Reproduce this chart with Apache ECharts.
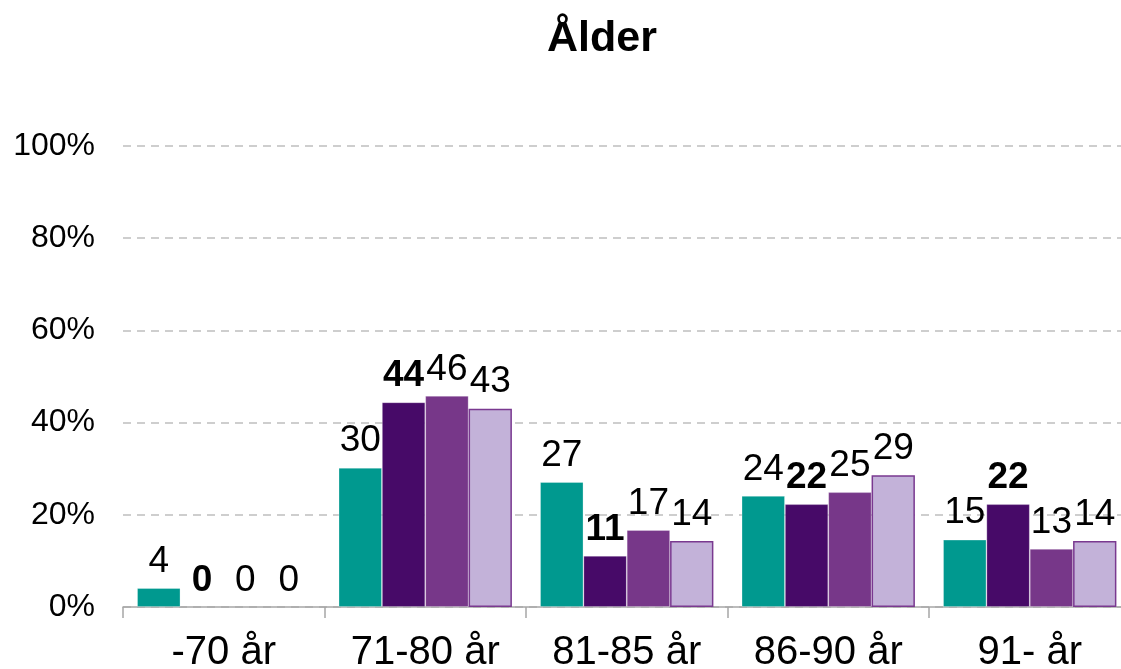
<!DOCTYPE html>
<html>
<head>
<meta charset="utf-8">
<title>Ålder</title>
<script src="https://cdn.jsdelivr.net/npm/echarts@6/dist/echarts.min.js"></script>
<style>
  html, body { margin: 0; padding: 0; background: #fff; }
  #chart { width: 1121px; height: 669px; }
</style>
</head>
<body>
<div id="chart"></div>
<script>
const categories = ['-70 år', '71-80 år', '81-85 år', '86-90 år', '91- år']
const yTicks = [0, 20, 40, 60, 80, 100]

// bar heights (percent)
const serieA = [4.1, 30.2, 27.1, 24.1, 14.6]
const serieB = [0, 44.4, 11.1, 22.3, 22.3]
const serieC = [0, 45.8, 16.7, 24.9, 12.6]
const serieD = [0, 43.0, 14.3, 28.6, 14.3]

const colors = ['#00998f', '#470a68', '#773789', '#c3b2d9']
const font = '"Liberation Sans", Arial, sans-serif'

const chartDom = document.getElementById('chart')
const myChart = echarts.init(chartDom)

const makeSeries = (data, i) => ({
    type: 'bar',
    data: data.map(v => v === 0 ? { value: v, itemStyle: { borderWidth: 0 } } : v),
    barGap: '0%',
    barCategoryGap: '14%',
    itemStyle: {
        color: colors[i],
        borderColor: i === 3 ? '#7a3990' : 'rgba(255,255,255,0.35)',
        borderWidth: i === 3 ? 1.5 : 0.8
    },
    label: {
        show: true,
        position: 'top',
        distance: 8,
        color: '#000',
        fontFamily: font,
        fontSize: 37,
        fontWeight: i === 1 ? 'bold' : 'normal',
        formatter: p => Math.round(p.value)
    }
})

const option = {
    animation: false,
    title: {
        text: 'Ålder',
        left: 597,
        top: 13,
        textAlign: 'center',
        textStyle: { fontFamily: font, fontSize: 43, fontWeight: 'bold', color: '#000' }
    },
    grid: { left: 123, right: -9.5, top: 146, bottom: 62, containLabel: false, outerBoundsMode: 'none' },
    xAxis: {
        type: 'category',
        data: categories,
        axisLine: { lineStyle: { color: '#a6a6a6', width: 1.5 } },
        axisTick: { show: true, length: 11, alignWithLabel: false, lineStyle: { color: '#a6a6a6', width: 1.5 } },
        axisLabel: { color: '#000', fontFamily: font, fontSize: 40, margin: 26, interval: 0 }
    },
    yAxis: {
        type: 'value',
        min: yTicks[0],
        max: yTicks[yTicks.length - 1],
        interval: 20,
        axisLine: { show: false },
        axisTick: { show: false },
        axisLabel: { color: '#000', fontFamily: font, fontSize: 32, margin: 28, formatter: v => v + '%' },
        splitLine: { lineStyle: { color: '#bfbfbf', width: 1.5, type: [8, 6] } }
    },
    series: [serieA, serieB, serieC, serieD].map(makeSeries)
}

myChart.setOption(option)
</script>
</body>
</html>
